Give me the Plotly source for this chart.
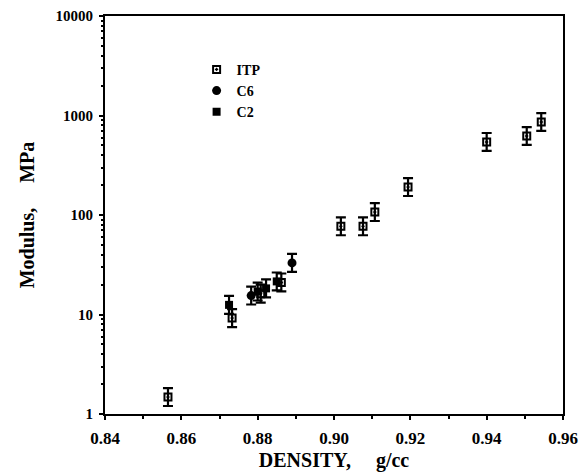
import plotly.graph_objects as go

# ITP series
itp_density = [0.8565, 0.8733, 0.8808, 0.8862, 0.9018, 0.9076, 0.9107, 0.9194, 0.9400, 0.9505, 0.9543]
itp_modulus = [1.48, 9.2, 16.2, 21.0, 77, 77, 107, 191, 542, 622, 860]
itp_err = [0.23, 0.23, 0.23, 0.23, 0.23, 0.23, 0.23, 0.23, 0.23, 0.23, 0.23]

# C6 series
c6_density = [0.8783, 0.8890]
c6_modulus = [15.5, 33.0]
c6_err = [0.23, 0.23]

# C2 series
c2_density = [0.8725, 0.8800, 0.8822, 0.8850]
c2_modulus = [12.5, 17.0, 18.3, 21.5]
c2_err = [0.23, 0.23, 0.23, 0.23]

x_ticks = [0.84, 0.86, 0.88, 0.90, 0.92, 0.94, 0.96]
x_ticklabels = ["0.84", "0.86", "0.88", "0.90", "0.92", "0.94", "0.96"]

FONT = "Liberation Serif"

y_minor = [m * d for d in (1, 10, 100, 1000) for m in range(2, 10)]


def errs(vals, fr):
    plus = [v * f for v, f in zip(vals, fr)]
    minus = [v * (1 - 1 / (1 + f)) for v, f in zip(vals, fr)]
    return plus, minus


def trace(x, y, fr, name, symbol, size, lw):
    plus, minus = errs(y, fr)
    return go.Scatter(
        x=x, y=y, mode="markers", name=name,
        marker=dict(symbol=symbol, size=size, color="black",
                    line=dict(color="black", width=lw)),
        error_y=dict(type="data", array=plus, arrayminus=minus, symmetric=False,
                     color="black", thickness=2.2, width=5),
    )


fig = go.Figure()
fig.add_trace(trace(itp_density, itp_modulus, itp_err, "ITP", "square-open-dot", 7, 2))
fig.add_trace(trace(c6_density, c6_modulus, c6_err, "C6", "circle", 9, 0))
fig.add_trace(trace(c2_density, c2_modulus, c2_err, "C2", "square", 8, 0))
# invisible helper trace so the minor-tick axis is drawn
fig.add_trace(go.Scatter(x=itp_density, y=itp_modulus, yaxis="y2", mode="markers",
                         marker=dict(opacity=0), showlegend=False, hoverinfo="skip"))

fig.update_layout(
    width=587, height=476,
    margin=dict(l=105, r=24, t=16, b=62, autoexpand=False),
    paper_bgcolor="white", plot_bgcolor="white",
    font=dict(family=FONT, size=14, color="black"),
    showlegend=True,
    legend=dict(x=0.2, y=0.905, xanchor="left", yanchor="top",
                bgcolor="rgba(0,0,0,0)",
                font=dict(family=FONT, size=14, color="black", weight="bold"),
                itemsizing="trace", tracegroupgap=0, itemwidth=30),
    xaxis=dict(
        range=[0.84, 0.96], tickmode="array", tickvals=x_ticks, ticktext=x_ticklabels,
        showline=True, linecolor="black", linewidth=2, mirror=True,
        ticks="outside", ticklen=4, tickwidth=2, tickcolor="black",
        minor=dict(dtick=0.01, ticks="outside", ticklen=3, tickwidth=2, tickcolor="black"),
        showgrid=False, zeroline=False, ticklabelstandoff=4, automargin=False,
        tickfont=dict(family=FONT, size=17, color="black", weight=700),
        title=dict(text="DENSITY,     g/cc", font=dict(family=FONT, size=20, color="black", weight="bold"), standoff=6),
    ),
    yaxis=dict(
        type="log", range=[0, 4], dtick=1, tickformat="d",
        showline=True, linecolor="black", linewidth=2, mirror=True,
        ticks="outside", ticklen=4, tickwidth=2, tickcolor="black",
        showgrid=False, zeroline=False, ticklabelstandoff=3, automargin=False,
        tickfont=dict(family=FONT, size=15, color="black", weight="bold"),
        title=dict(text="Modulus,     MPa", font=dict(family=FONT, size=20, color="black", weight="bold"), standoff=16),
    ),
    yaxis2=dict(
        type="log", range=[0, 4], overlaying="y", side="left", anchor="x",
        tickmode="array", tickvals=y_minor, showticklabels=False,
        ticks="outside", ticklen=3, tickwidth=1.5, tickcolor="black",
        showgrid=False, zeroline=False, showline=False, automargin=False,
    ),
)

fig.write_html("out.html")
